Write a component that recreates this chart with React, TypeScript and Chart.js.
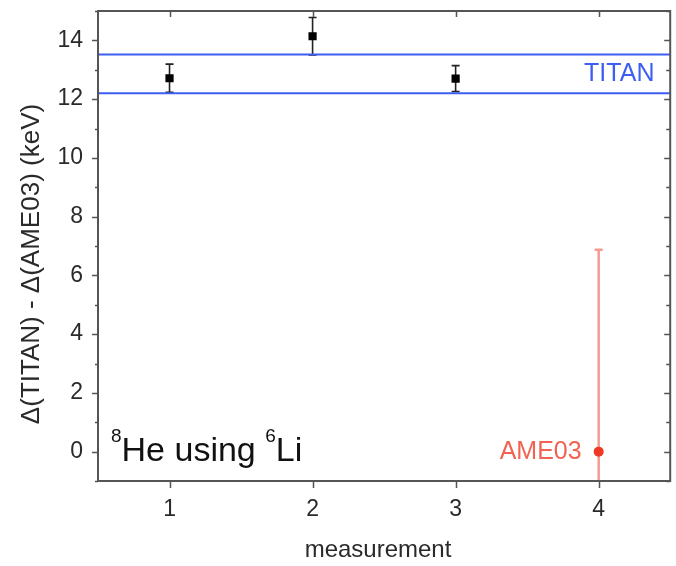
import React, { useEffect, useRef } from 'react';
import { Chart, registerables } from 'chart.js';

Chart.register(...registerables);

// ---- data ----
const measurements = [1, 2, 3];
const deltaValues = [12.71, 14.14, 12.7];
const deltaErrors = [0.48, 0.64, 0.44];
const ameX = [4];
const ameValues = [0];
const ameErrors = [6.87];
const titanBand = [12.2, 13.52];
const xRange = [0.5, 4.5];
const yRange = [-1, 15];
const xTicks = [1, 2, 3, 4];
const yTicks = [0, 2, 4, 6, 8, 10, 12, 14];
const yMinorTicks = [-1, 1, 3, 5, 7, 9, 11, 13, 15];

const FONT = '"Liberation Sans", Arial, sans-serif';
const BLUE = '#3d5ef2';
const RED = '#ee3a24';
const AXIS = '#555555';
const TEXT = '#2a2a2a';

const overlayPlugin = {
  id: 'overlay',
  beforeDatasetsDraw(chart: any) {
    const { ctx, chartArea } = chart;
    const xs = chart.scales.x;
    const ys = chart.scales.y;
    ctx.save();
    ctx.beginPath();
    ctx.rect(chartArea.left, chartArea.top, chartArea.right - chartArea.left, chartArea.bottom - chartArea.top);
    ctx.clip();
    const bar = (xv: number, yv: number, err: number, color: string, lw: number) => {
      const px = xs.getPixelForValue(xv);
      const top = ys.getPixelForValue(yv + err);
      const bot = ys.getPixelForValue(yv - err);
      ctx.strokeStyle = color;
      ctx.lineWidth = lw;
      ctx.beginPath();
      ctx.moveTo(px, top);
      ctx.lineTo(px, bot);
      ctx.moveTo(px - 4, top);
      ctx.lineTo(px + 4, top);
      ctx.moveTo(px - 4, bot);
      ctx.lineTo(px + 4, bot);
      ctx.stroke();
    };
    measurements.forEach((m, i) => bar(m, deltaValues[i], deltaErrors[i], '#222222', 1.6));
    ameX.forEach((m, i) => bar(m, ameValues[i], ameErrors[i], 'rgba(240,100,85,0.65)', 2.5));
    ctx.restore();
  },
  afterDraw(chart: any) {
    const { ctx, chartArea } = chart;
    const xs = chart.scales.x;
    const ys = chart.scales.y;
    const { left, right, top, bottom } = chartArea;
    ctx.save();
    // frame
    ctx.strokeStyle = AXIS;
    ctx.lineWidth = 2;
    ctx.strokeRect(left, top, right - left, bottom - top);
    ctx.lineWidth = 1.5;
    ctx.beginPath();
    yTicks.forEach((v) => {
      const py = Math.round(ys.getPixelForValue(v)) + 0.5;
      ctx.moveTo(left - 6, py);
      ctx.lineTo(left, py);
      ctx.moveTo(right, py);
      ctx.lineTo(right - 6, py);
    });
    yMinorTicks.forEach((v) => {
      const py = Math.round(ys.getPixelForValue(v)) + 0.5;
      ctx.moveTo(left - 3, py);
      ctx.lineTo(left, py);
      ctx.moveTo(right, py);
      ctx.lineTo(right - 4, py);
    });
    xTicks.forEach((v) => {
      const px = Math.round(xs.getPixelForValue(v)) + 0.5;
      ctx.moveTo(px, bottom);
      ctx.lineTo(px, bottom + 7);
      ctx.moveTo(px, top);
      ctx.lineTo(px, top + 6);
    });
    ctx.stroke();

    // TITAN label
    ctx.fillStyle = BLUE;
    ctx.font = `25px ${FONT}`;
    ctx.textAlign = 'right';
    ctx.textBaseline = 'middle';
    ctx.fillText('TITAN', xs.getPixelForValue(4.39), ys.getPixelForValue((titanBand[0] + titanBand[1]) / 2));

    // AME03 label
    ctx.fillStyle = 'rgba(238,70,50,0.85)';
    ctx.font = `25px ${FONT}`;
    ctx.fillText('AME03', xs.getPixelForValue(ameX[0]) - 17, ys.getPixelForValue(ameValues[0]));

    // 8He using 6Li
    ctx.fillStyle = '#111111';
    ctx.textAlign = 'left';
    ctx.textBaseline = 'alphabetic';
    const baseY = 461;
    let cx = 111;
    ctx.font = `19px ${FONT}`;
    ctx.fillText('8', cx, baseY - 19);
    cx += ctx.measureText('8').width;
    ctx.font = `34px ${FONT}`;
    ctx.fillText('He using ', cx, baseY);
    cx += ctx.measureText('He using ').width;
    ctx.font = `19px ${FONT}`;
    ctx.fillText('6', cx, baseY - 19);
    cx += ctx.measureText('6').width;
    ctx.font = `34px ${FONT}`;
    ctx.fillText('Li', cx, baseY);

    // axis titles
    ctx.fillStyle = TEXT;
    ctx.font = `24px ${FONT}`;
    ctx.textAlign = 'center';
    ctx.textBaseline = 'middle';
    ctx.fillText('measurement', 378, 550);
    ctx.translate(32, 264);
    ctx.rotate(-Math.PI / 2);
    ctx.font = `26px ${FONT}`;
    ctx.fillText('\u0394(TITAN) - \u0394(AME03) (keV)', 0, 0);
    ctx.restore();
  },
};

export default function App() {
  const ref = useRef<HTMLCanvasElement | null>(null);
  useEffect(() => {
    if (!ref.current) return;
    const chart = new Chart(ref.current, {
      type: 'scatter',
      data: {
        datasets: [
          {
            label: 'TITAN upper',
            type: 'line',
            data: xRange.map((x) => ({ x, y: titanBand[1] })),
            borderColor: BLUE,
            borderWidth: 2,
            pointRadius: 0,
            fill: false,
          },
          {
            label: 'TITAN lower',
            type: 'line',
            data: xRange.map((x) => ({ x, y: titanBand[0] })),
            borderColor: BLUE,
            borderWidth: 2,
            pointRadius: 0,
            fill: false,
          },
          {
            label: 'measurements',
            data: measurements.map((x, i) => ({ x, y: deltaValues[i] })),
            pointStyle: 'rect',
            pointRadius: 5.8,
            backgroundColor: '#000000',
            borderColor: '#000000',
            borderWidth: 0,
          },
          {
            label: 'AME03',
            data: ameX.map((x, i) => ({ x, y: ameValues[i] })),
            pointStyle: 'circle',
            pointRadius: 5,
            backgroundColor: RED,
            borderColor: RED,
            borderWidth: 0,
          },
        ],
      },
      options: {
        responsive: false,
        animation: false,
        layout: { padding: { top: 11, right: 3, left: 0, bottom: 0 } },
        plugins: { legend: { display: false }, tooltip: { enabled: false } },
        scales: {
          x: {
            type: 'linear',
            min: xRange[0],
            max: xRange[1],
            afterBuildTicks: (s: any) => {
              s.ticks = xTicks.map((v) => ({ value: v }));
            },
            afterFit: (s: any) => {
              s.height = 85;
              s.paddingLeft = 0;
              s.paddingRight = 0;
              s.paddingTop = 0;
              s.paddingBottom = 0;
            },
            grid: { display: false, drawTicks: false },
            border: { display: false },
            ticks: {
              padding: 18,
              color: TEXT,
              font: { family: FONT, size: 23, lineHeight: 0.9 },
              callback: (v: any) => String(v),
            },
          },
          y: {
            type: 'linear',
            min: yRange[0],
            max: yRange[1],
            afterBuildTicks: (s: any) => {
              s.ticks = yTicks.map((v) => ({ value: v }));
            },
            afterFit: (s: any) => {
              s.width = 98;
              s.paddingLeft = 0;
              s.paddingRight = 0;
              s.paddingTop = 0;
              s.paddingBottom = 0;
            },
            grid: { display: false, drawTicks: false },
            border: { display: false },
            ticks: {
              padding: 15,
              color: TEXT,
              font: { family: FONT, size: 23, lineHeight: 0.9 },
              callback: (v: any) => String(v),
            },
          },
        },
      },
      plugins: [overlayPlugin],
    });
    return () => chart.destroy();
  }, []);
  return (
    <div style={{ position: 'fixed', left: 0, top: 0, width: 676, height: 566, background: '#fff' }}>
      <canvas ref={ref} width={676} height={566} style={{ display: 'block' }} />
    </div>
  );
}
